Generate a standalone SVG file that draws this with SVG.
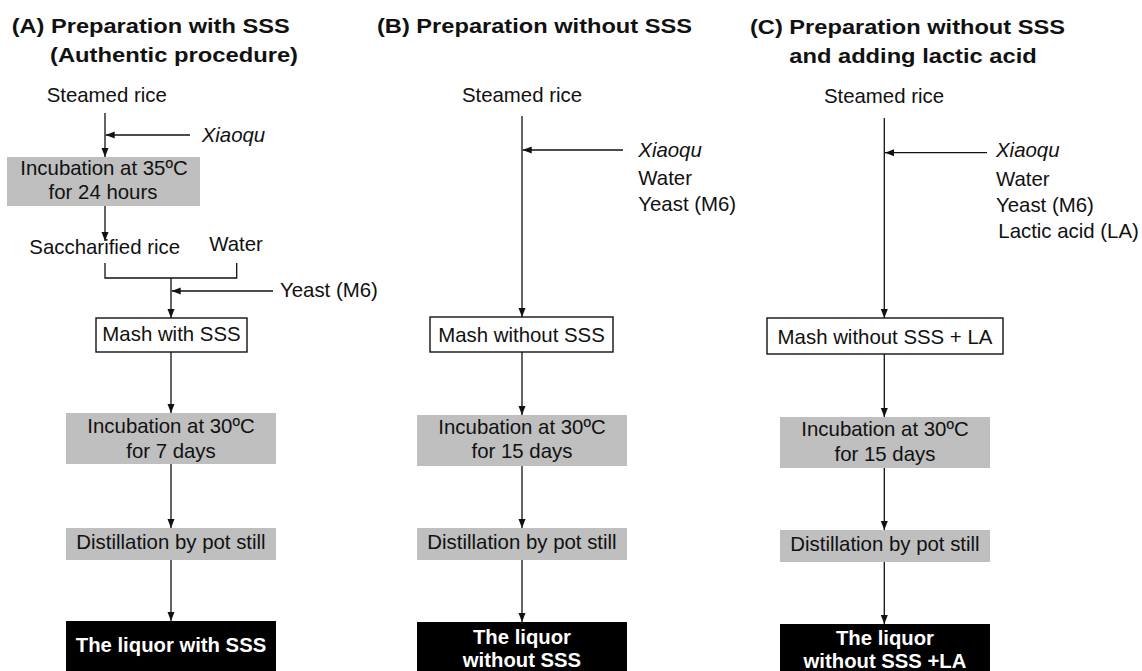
<svg xmlns="http://www.w3.org/2000/svg" width="1142" height="671" viewBox="0 0 1142 671">
<style>
  text { font-family: "Liberation Sans", Arial, Helvetica, sans-serif; fill: #111; }
  .title { font-size: 21px; font-weight: bold; }
  .t { font-size: 20.4px; }
  .c { text-anchor: middle; }
  .it { font-style: italic; }
  .w { fill: #fff; font-weight: bold; font-size: 20.3px; text-anchor: middle; }
  .gray { fill: #bfbfbf; }
  .box { fill: #fff; stroke: #111; stroke-width: 1.4; }
  .blk { fill: #000; }
  .ln { fill: none; stroke: #111; stroke-width: 1.3; }
  .arr { fill: none; stroke: #111; stroke-width: 1.3; marker-end: url(#ah); }
</style>
<defs>
  <marker id="ah" markerUnits="userSpaceOnUse" markerWidth="10" markerHeight="8" refX="9" refY="3.5" orient="auto">
    <path d="M0,0 L9,3.5 L0,7 Z" fill="#111"/>
  </marker>
</defs>
<rect width="1142" height="671" fill="#fff"/>

<!-- Titles -->
<g id="titleA">
  <text class="title" x="11.7" y="33" textLength="278" lengthAdjust="spacingAndGlyphs">(A) Preparation with SSS</text>
  <text class="title" x="50" y="62" textLength="248" lengthAdjust="spacingAndGlyphs">(Authentic procedure)</text>
</g>
<g id="titleB">
  <text class="title" x="377" y="33" textLength="315" lengthAdjust="spacingAndGlyphs">(B) Preparation without SSS</text>
</g>
<g id="titleC">
  <text class="title" x="750" y="34" textLength="315" lengthAdjust="spacingAndGlyphs">(C) Preparation without SSS</text>
  <text class="title" x="789.3" y="62.5" textLength="247.4" lengthAdjust="spacingAndGlyphs">and adding lactic acid</text>
</g>

<!-- Connectors -->
<g id="connectors">
  <!-- A -->
  <line class="arr" x1="105" y1="113" x2="105" y2="157"/>
  <line class="arr" x1="190" y1="135" x2="105.7" y2="135"/>
  <line class="arr" x1="105" y1="206" x2="105" y2="241"/>
  <path class="ln" d="M105,263 V278 H236.7 V263"/>
  <line class="arr" x1="171" y1="278" x2="171" y2="318"/>
  <line class="arr" x1="273" y1="291" x2="171.7" y2="291"/>
  <line class="arr" x1="171" y1="352" x2="171" y2="413"/>
  <line class="arr" x1="171" y1="464" x2="171" y2="528"/>
  <line class="arr" x1="171" y1="560" x2="171" y2="621"/>
  <!-- B -->
  <line class="arr" x1="522" y1="116" x2="522" y2="317"/>
  <line class="arr" x1="623" y1="150" x2="522.7" y2="150"/>
  <line class="arr" x1="522" y1="352" x2="522" y2="415"/>
  <line class="arr" x1="522" y1="466" x2="522" y2="528"/>
  <line class="arr" x1="522" y1="560" x2="522" y2="622"/>
  <!-- C -->
  <line class="arr" x1="884.3" y1="118" x2="884.3" y2="318"/>
  <line class="arr" x1="987" y1="152.7" x2="885" y2="152.7"/>
  <line class="arr" x1="884.3" y1="354" x2="884.3" y2="417"/>
  <line class="arr" x1="884.3" y1="468" x2="884.3" y2="530"/>
  <line class="arr" x1="884.3" y1="562" x2="884.3" y2="624"/>
</g>

<!-- Panel A nodes -->
<g id="A-steamed"><text class="t c" x="106.7" y="102">Steamed rice</text></g>
<g id="A-xiaoqu"><text class="t it" x="201.7" y="142">Xiaoqu</text></g>
<g id="A-incub1">
  <rect class="gray" x="7" y="157" width="193" height="49"/>
  <text class="t c" x="104" y="175">Incubation at 35ºC</text>
  <text class="t c" x="103" y="199">for 24 hours</text>
</g>
<g id="A-sacch"><text class="t c" x="104.7" y="254">Saccharified rice</text></g>
<g id="A-water"><text class="t c" x="236" y="251">Water</text></g>
<g id="A-yeast"><text class="t" x="280" y="297">Yeast (M6)</text></g>
<g id="A-mash">
  <rect class="box" x="96" y="318" width="151" height="34"/>
  <text class="t c" x="171.5" y="341">Mash with SSS</text>
</g>
<g id="A-incub2">
  <rect class="gray" x="66" y="413" width="210" height="51"/>
  <text class="t c" x="171" y="433">Incubation at 30ºC</text>
  <text class="t c" x="171" y="458">for 7 days</text>
</g>
<g id="A-dist">
  <rect class="gray" x="66" y="528" width="210" height="32"/>
  <text class="t c" x="171" y="549">Distillation by pot still</text>
</g>
<g id="A-liquor">
  <rect class="blk" x="66" y="621" width="210" height="51"/>
  <text class="w" x="171" y="652">The liquor with SSS</text>
</g>

<!-- Panel B nodes -->
<g id="B-steamed"><text class="t c" x="522" y="102">Steamed rice</text></g>
<g id="B-inputs">
  <text class="t it" x="638.3" y="156.5">Xiaoqu</text>
  <text class="t" x="638.3" y="185">Water</text>
  <text class="t" x="638.3" y="211">Yeast (M6)</text>
</g>
<g id="B-mash">
  <rect class="box" x="430" y="317" width="183" height="35"/>
  <text class="t c" x="521.5" y="341.5">Mash without SSS</text>
</g>
<g id="B-incub">
  <rect class="gray" x="417" y="415" width="210" height="51"/>
  <text class="t c" x="522" y="434">Incubation at 30ºC</text>
  <text class="t c" x="522" y="458">for 15 days</text>
</g>
<g id="B-dist">
  <rect class="gray" x="417" y="528" width="210" height="32"/>
  <text class="t c" x="522" y="549">Distillation by pot still</text>
</g>
<g id="B-liquor">
  <rect class="blk" x="417" y="622" width="210" height="50"/>
  <text class="w" x="522" y="644">The liquor</text>
  <text class="w" x="522" y="667">without SSS</text>
</g>

<!-- Panel C nodes -->
<g id="C-steamed"><text class="t c" x="884" y="103">Steamed rice</text></g>
<g id="C-inputs">
  <text class="t it" x="996" y="157">Xiaoqu</text>
  <text class="t" x="996" y="186">Water</text>
  <text class="t" x="996" y="212">Yeast (M6)</text>
  <text class="t" x="998.3" y="238">Lactic acid (LA)</text>
</g>
<g id="C-mash">
  <rect class="box" x="767" y="318" width="236" height="36"/>
  <text class="t c" x="885" y="343.5">Mash without SSS + LA</text>
</g>
<g id="C-incub">
  <rect class="gray" x="780" y="417" width="210" height="51"/>
  <text class="t c" x="885" y="436">Incubation at 30ºC</text>
  <text class="t c" x="885" y="460.5">for 15 days</text>
</g>
<g id="C-dist">
  <rect class="gray" x="780" y="530" width="210" height="32"/>
  <text class="t c" x="885" y="550.5">Distillation by pot still</text>
</g>
<g id="C-liquor">
  <rect class="blk" x="780" y="624" width="210" height="48"/>
  <text class="w" x="885" y="645">The liquor</text>
  <text class="w" x="885" y="668">without SSS +LA</text>
</g>
</svg>
